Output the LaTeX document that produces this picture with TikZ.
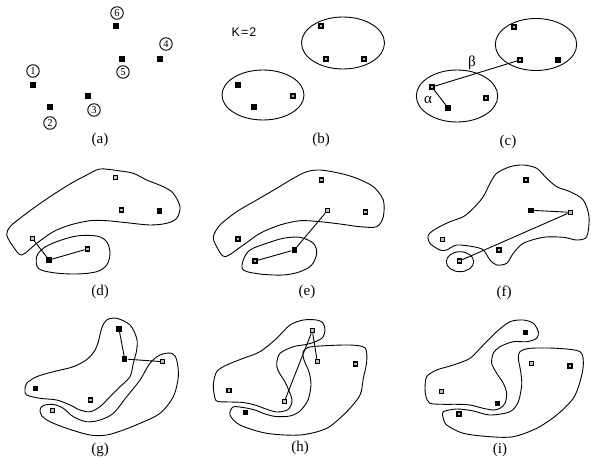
\documentclass[tikz,border=0pt]{standalone}
\usepackage{fontspec}
\newfontfamily\sansK{Liberation Sans}
\newfontfamily\serifL{Liberation Serif}
\begin{document}
\begin{tikzpicture}[x=1pt,y=-1pt,
  sq/.style={rectangle,fill=black,minimum size=5.5pt,inner sep=0pt},
  sqd/.style={rectangle,draw=black,line width=1.4pt,fill=gray!50,minimum size=4pt,inner sep=0pt},
  blob/.style={draw=black,line width=0.9pt},
  edge/.style={draw=black,line width=0.9pt},
  num/.style={circle,draw=black,line width=0.9pt,inner sep=0pt,minimum size=12.5pt,font=\serifL\fontsize{10.5}{11}\selectfont},
  lab/.style={font=\serifL\fontsize{15}{17}\selectfont},
  greek/.style={font=\serifL\fontsize{15}{17}\selectfont}]
\useasboundingbox (0,0) rectangle (591,465);

% ---------- (a) six objects ----------
\node[sq] (a1) at (33,85) {};   \node[num] (n1) at (33,71) {1};
\node[sq] (a2) at (50,107) {};  \node[num] (n2) at (50,123) {2};
\node[sq] (a3) at (88,96) {};   \node[num] (n3) at (94,110) {3};
\node[sq] (a4) at (160,59) {};  \node[num] (n4) at (166,44) {4};
\node[sq] (a5) at (122,59) {};  \node[num] (n5) at (123,72) {5};
\node[sq] (a6) at (116,26) {};  \node[num] (n6) at (117,13) {6};
\node[lab] (la) at (100,140) {(a)};

% ---------- (b) two initial clusters ----------
\node[font=\sansK\fontsize{12.5}{14}\selectfont] (kk) at (244,32) {K\kern1pt=\kern1pt2};
\draw[blob] (343,43) ellipse [x radius=41.5, y radius=26];
\draw[blob] (263,95) ellipse [x radius=41, y radius=25];
\node[sqd] (b1) at (321,26) {};
\node[sqd] (b2) at (326,59) {};
\node[sqd] (b3) at (364,59) {};
\node[sq]  (b4) at (238,85) {};
\node[sq]  (b5) at (254,107) {};
\node[sqd] (b6) at (293,96) {};
\node[lab] (lb) at (321,140) {(b)};

% ---------- (c) distances alpha and beta ----------
\draw[blob] (536,44.5) ellipse [x radius=40.7, y radius=26];
\draw[blob] (457,96) ellipse [x radius=40.7, y radius=26];
\node[sqd] (c1) at (514,27) {};
\node[sqd] (c2) at (520,60) {};
\node[sq]  (c3) at (558,60) {};
\node[sqd] (c4) at (432,87) {};
\node[sq]  (c5) at (448,108) {};
\node[sqd] (c6) at (486,98) {};
\draw[edge] (c4) -- (c2);
\draw[edge] (c4) -- (c5);
\node[greek] (beta) at (472,63) {β};
\node[greek] (alpha) at (428,100) {α};
\node[lab] (lc) at (508,142) {(c)};

% ---------- (d) ----------
\draw[blob] plot[smooth cycle, tension=0.5] coordinates {
  (21.7,255) (13.3,246.7) (6.7,235) (10,226.7) (20,218.3) (33.3,208.3)
  (50,196.7) (70,184) (86.7,175) (100,169) (116.7,170.5) (133.3,173.3)
  (146.7,180) (163.3,186.7) (173.3,193.3) (180,206.7) (176.7,218.3)
  (166.7,223.3) (150,225) (126.7,222.7) (106.7,220.7) (90,220.7) (70,225)
  (53.3,231.7) (36.7,243.3)};
\draw[blob] plot[smooth cycle, tension=0.55] coordinates {
  (36.7,256.7) (43.3,248.3) (56.7,241.7) (76.7,236) (96.7,236) (106.7,241.7)
  (110,253.3) (106.7,265) (96.7,271.7) (76.7,274) (53.3,272.7) (38.3,268.3)};
\node[sqd] (d1) at (115.7,177.7) {};
\node[sqd] (d2) at (121.7,210) {};
\node[sq]  (d3) at (159.7,211) {};
\node[sqd] (d4) at (32.3,238.3) {};
\node[sqd] (d5) at (87.3,249) {};
\node[sq]  (d6) at (49,260) {};
\draw[edge] (d4) -- (d6);
\draw[edge] (d6) -- (d5);
\node[lab] (ld) at (100,292) {(d)};

% ---------- (e) ----------
\draw[blob] plot[smooth cycle, tension=0.5] coordinates {
  (225,256.7) (216.7,246.7) (213.3,236.7) (220,225) (236.7,211.7) (256.7,200)
  (276.7,188.3) (293.3,178.3) (306.7,171.7) (320,170) (340,173.3) (356.7,178.3)
  (373.3,186.7) (383.3,200) (383.3,216.7) (376.7,226.7) (360,226.7) (340,224)
  (320,221.7) (300,220.7) (280,225) (260,233.3) (243.3,245)};
\draw[blob] plot[smooth cycle, tension=0.55] coordinates {
  (243.3,260) (250,250) (266.7,243.3) (283.3,238.3) (300,237.3) (313.3,243.3)
  (316.7,253.3) (311.7,265) (300,271.7) (283.3,275) (260,274) (243.3,270)};
\node[sqd] (e1) at (321.7,180) {};
\node[sqd] (e2) at (327.3,210.7) {};
\node[sqd] (e3) at (365.3,212) {};
\node[sqd] (e4) at (238,239) {};
\node[sq]  (e5) at (294.3,250) {};
\node[sqd] (e6) at (255,261) {};
\draw[edge] (e2) -- (e5);
\draw[edge] (e5) -- (e6);
\node[lab] (le) at (307,292) {(e)};

% ---------- (f) ----------
\draw[blob] plot[smooth cycle, tension=0.5] coordinates {
  (440,250) (430,243.3) (428.3,235) (436.7,228.3) (450,221.7) (463.3,216.7)
  (473.3,208.3) (483.3,196.7) (490,183.3) (496.7,173.3) (510,166.7)
  (523.3,165) (536.7,168.3) (546.7,178.3) (556.7,186.7) (570,191.7)
  (583.3,200) (589,216.7) (586.7,236.7) (576.7,240) (563.3,237.3)
  (543.3,237.3) (523.3,243.3) (513.3,253.3) (506.7,263.3) (496.7,265)
  (490,260) (483.3,250) (473.3,246.7) (456.7,245) (446.7,250)};
\draw[blob] (460,261.7) ellipse [x radius=13.7, y radius=10];
\node[sqd] (f1) at (526,180) {};
\node[sq]  (f2) at (531,210.3) {};
\node[sqd] (f3) at (570.3,212.3) {};
\node[sqd] (f4) at (442.7,239.3) {};
\node[sqd] (f5) at (499,250) {};
\node[sqd] (f6) at (459.3,261) {};
\draw[edge] (f2) -- (f3);
\draw[edge] (f3) -- (f6);
\node[lab] (lf) at (504,293) {(f)};

% ---------- (g) ----------
\draw[blob] plot[smooth cycle, tension=0.55] coordinates {
  (25,390) (26.7,383.3) (36.7,376.7) (53.3,371.7) (73.3,366.7) (88.3,358.3)
  (96.7,346.7) (101.7,328.3) (106.7,320) (116.7,318.3) (130,325) (136.7,338.3)
  (136.7,350) (133.3,363.3) (130,376.7) (120,386.7) (110,396.7) (100,406.7)
  (90,411.7) (80,410) (70,405) (56.7,400) (40,398.3) (26.7,395)};
\draw[blob] plot[smooth cycle, tension=0.55] coordinates {
  (40,410) (43.3,405.5) (53.3,404.5) (63.3,408.3) (73.3,416.7) (86.7,421.7)
  (100,420) (113.3,413.3) (126.7,396.7) (140,380) (150,363.3) (160,355)
  (171.7,353.3) (176.7,360) (178.3,376.7) (173.3,396.7) (160,413.3)
  (140,423.3) (123.3,430) (106.7,435) (90,435) (66.7,428.3) (50,421.7)
  (42,416)};
\node[sq]  (g1) at (119,329) {};
\node[sq]  (g2) at (124.7,359) {};
\node[sq]  (g3) at (35.7,388.3) {};
\node[sqd] (g4) at (90.7,400) {};
\node[sqd] (g5) at (52.3,410.5) {};
\node[sqd] (g6) at (162.7,361.7) {};
\draw[edge] (g1) -- (g2);
\draw[edge] (g2) -- (g6);
\node[lab] (lg) at (100,450) {(g)};

% ---------- (h) ----------
\draw[blob] plot[smooth cycle, tension=0.5] coordinates {
  (215,398.3) (213.3,385) (216.7,371.7) (226.7,365) (243.3,358.3) (260,351.7)
  (276.7,338.3) (290,325) (303.3,320) (316.7,320) (323,323) (325,330)
  (323,337) (316,341.5) (306,344.5) (293.3,346.7) (280,353.3) (276.7,363.3)
  (278.3,371) (286,384) (292,400) (288,409.5) (277,412) (266,409)
  (255,405) (243,402.5) (230,402) (218,401.5)};
\draw[blob] plot[smooth cycle, tension=0.5] coordinates {
  (233,407) (243,407.5) (255,410) (265,414) (276,416.5) (290,416) (300,411)
  (308,400) (311,385) (309,372) (304,360) (303,352) (308,347.5) (320,346)
  (350,345) (365,348) (366.7,361.7) (363.3,378.3) (360,395) (346.7,411.7)
  (326.7,428.3) (300,435) (266.7,433.3) (240,425) (230,415)};
\node[sqd] (h1) at (312.3,330.7) {};
\node[sqd] (h2) at (317.3,361.7) {};
\node[sqd] (h3) at (355.7,364) {};
\node[sqd] (h4) at (229,390.3) {};
\node[sqd] (h5) at (284.3,401.7) {};
\node[sq]  (h6) at (245.7,412.7) {};
\draw[edge] (h1) -- (h2);
\draw[edge] (h1) -- (h5);
\node[lab] (lh) at (300,448) {(h)};

% ---------- (i) ----------
\draw[blob] plot[smooth cycle, tension=0.5] coordinates {
  (425,388.3) (426.7,376.7) (436.7,370) (453.3,365) (470,358.3) (483.3,345)
  (496.7,331.7) (510,321.7) (523.3,320) (533.3,323.3) (538.3,331.7)
  (536.7,338.3) (526.7,341.7) (513.3,341.7) (500,346.7) (493.3,353.3)
  (491.7,363.3) (496.7,373.3) (503.3,383.3) (506.7,393.3) (505,403.3)
  (500,408.3) (493.3,410) (483.3,408.3) (470,405) (456.7,404.3)
  (443.3,404.3) (430,403.3) (426,396.7)};
\draw[blob] plot[smooth cycle, tension=0.5] coordinates {
  (443.3,411.7) (456.7,409) (473.3,411) (490,415) (510,411.7) (518.3,401.7)
  (521.7,385) (520.7,371.7) (518.3,358.3) (520,351.7) (530,348.3)
  (556.7,348.3) (580,351.7) (583.3,365) (580,381.7) (573.3,398.3)
  (556.7,415) (536.7,428.3) (513.3,436.7) (490,436.7) (463.3,433.3)
  (446.7,425) (443,417)};
\node[sq]  (i1) at (525.7,332.7) {};
\node[sqd] (i2) at (531.7,363.3) {};
\node[sqd] (i3) at (570,366) {};
\node[sqd] (i4) at (441.7,391.7) {};
\node[sq]  (i5) at (497.3,403.3) {};
\node[sqd] (i6) at (459,414) {};
\node[lab] (li) at (500,450) {(i)};
\end{tikzpicture}
\end{document}
